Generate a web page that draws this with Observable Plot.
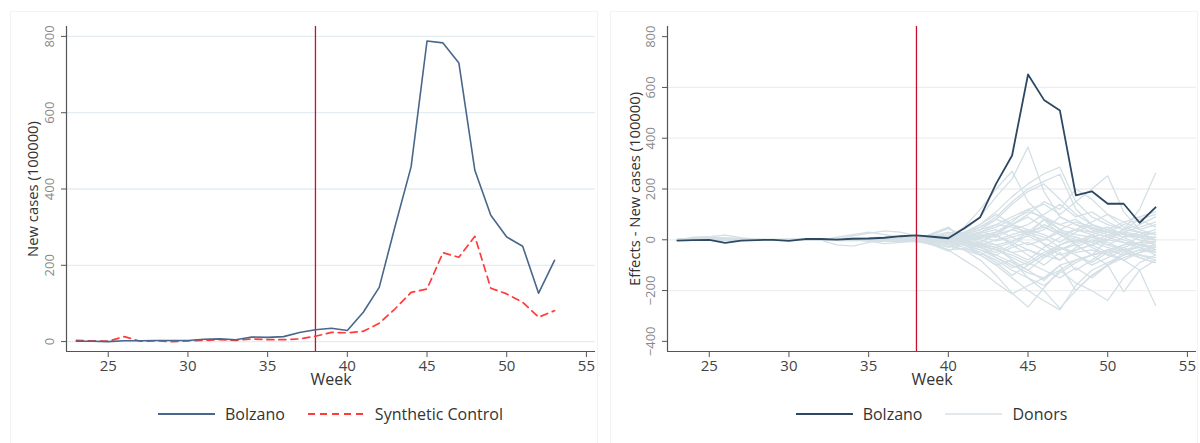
<!DOCTYPE html>
<html><head><meta charset="utf-8">
<script src="https://cdn.jsdelivr.net/npm/d3@7"></script>
<script src="https://cdn.jsdelivr.net/npm/@observablehq/plot@0.6"></script>
<style>
body{margin:0;background:#fff;font-family:"Open Sans",sans-serif;}
#wrap{position:relative;width:1200px;height:443px;overflow:hidden;background:#fff;}
.panel{position:absolute;top:0;width:600px;height:443px;}
.panel > svg{position:absolute;left:0;top:0;}
.frame{position:absolute;top:11px;height:440px;border:1px solid #f3f3f3;box-sizing:border-box;}
.legend{position:absolute;top:402px;height:24px;display:flex;justify-content:center;align-items:center;gap:23px;font-size:16px;color:#333;}
.item{display:flex;align-items:center;gap:10px;white-space:nowrap;}
.item svg{display:block;}
</style></head><body><div id="wrap"></div>
<script>
// ---- data ----
const weeks = [23,24,25,26,27,28,29,30,31,32,33,34,35,36,37,38,39,40,41,42,43,44,45,46,47,48,49,50,51,52,53];
const bolzanoCases   = [1,1,0,2,2,3,3,3,6,7,5,12,11,13,24,31,35,29,77,142,303,458,788,783,730,449,331,274,250,127,213];
const syntheticCases = [3,2,1,13,1,2,0,2,3,5,3,7,5,5,7,14,24,23,27,48,86,129,138,233,221,276,140,125,103,64,81];
const bolzanoEffects = [-3,-1,0,-12,-3,-1,0,-4,3,3,1,4,5,8,14,17,12,6,45,89,221,332,651,551,509,175,191,142,142,67,128];
const donorEffects = [
 [2,3,5,8,4,1,0,2,3,1,4,6,8,10,7,5, 12,25,40,90,170,240,365,190,90,60,45,30,25,15,10],
 [-1,0,2,1,-2,0,1,0,-1,2,3,1,5,4,6,3, 8,15,30,60,110,170,220,260,286,150,90,60,40,30,20],
 [0,-2,1,3,2,1,0,-1,1,0,2,3,2,5,4,6, 5,10,22,50,90,150,200,230,258,120,60,30,10,-20,-40],
 [3,5,12,18,8,2,0,1,2,3,1,2,4,3,2,1, -5,0,15,30,60,90,120,140,100,150,200,252,110,40,20],
 [0,1,0,-1,1,2,0,1,0,-2,1,0,2,1,3,2, 4,6,10,-10,30,60,20,80,40,-20,-60,0,40,120,262],
 [1,0,-1,2,0,-1,1,0,2,1,-1,0,3,2,1,3, 6,10,50,120,200,270,150,90,40,20,10,0,-10,-20,-30],
 [-2,-1,0,1,0,1,2,0,1,2,0,1,2,3,1,0, 2,5,20,40,80,140,190,220,160,100,60,40,20,10,0],
 [1,2,1,0,-1,0,1,2,0,1,3,2,1,0,2,3, 20,45,10,30,20,60,100,150,120,200,160,100,70,40,60],
 [0,-1,-2,0,1,0,-1,0,-1,0,-3,-2,-4,-6,-5,-4, -10,-20,-40,-80,-140,-210,-265,-190,-120,-80,-60,-40,-20,-10,-5],
 [-1,0,1,0,-1,-2,0,-1,0,1,-2,-3,-1,-2,-4,-3, -6,-15,-30,-60,-100,-150,-200,-240,-276,-180,-120,-90,-60,-40,-30],
 [0,1,0,-1,0,1,-1,0,1,-1,0,-2,-1,-3,-2,-5, -8,-12,-20,-40,-70,-100,-130,-150,-120,-170,-200,-239,-150,-90,-60],
 [1,0,-1,0,1,0,0,1,-1,0,1,0,-1,0,1,-2, -3,-5,-10,-20,-30,-50,-40,-60,-30,-50,-40,-60,-80,-120,-259],
 [0,-1,0,1,0,-1,0,-2,-1,0,-2,-1,-3,-5,-4,-8, -15,-40,-80,-120,-170,-213,-180,-150,-100,-80,-60,-50,-40,-30,-20],
 [-2,-1,0,-1,0,1,0,-1,0,-1,-2,-1,0,-2,-3,-4, -5,-10,-20,-30,-60,-90,-120,-160,-100,-200,-140,-100,-70,-50,-40],
 [0,0,-1,0,1,0,-1,0,0,1,0,-1,-2,-1,-2,-3, -15,-40,-35,-50,-80,-120,-150,-180,-130,-90,-60,-40,-30,-70,-90],
 [1,0,0,1,0,-1,0,1,0,0,-1,0,1,0,-1,-2, -4,-10,-15,-25,-40,-60,-90,-120,-150,-110,-150,-100,-205,-120,-80],
 [0,1,2,1,0,1,0,-1,0,1,0,1,0,-1,0,-1, -2,-5,-20,-60,-100,-80,-150,-200,-270,-200,-140,-100,-60,-40,-50],
 [0,1,0,1,2,1,0,1,2,1,2,3,4,5,4,3, 5,8,20,40,60,50,30,80,60,40,30,50,20,10,30],
 [1,0,-1,0,1,0,1,0,-1,0,1,2,1,0,2,1, 3,5,-10,-20,0,20,40,20,-10,30,60,40,20,0,-20],
 [0,-1,0,1,0,1,0,-1,0,1,0,-1,-2,-1,-3,-2, -5,-10,-20,-40,-60,-30,-10,-40,-80,-30,0,-20,-40,-30,-50],
 [0,1,1,0,-1,0,1,2,1,0,-1,0,1,2,3,2, 20,45,15,30,50,80,110,90,60,80,40,20,30,50,70],
 [1,0,0,-1,0,1,0,0,1,0,0,1,0,-1,0,1, 0,-5,5,-20,-40,-70,-100,-60,-20,10,-30,-60,-30,-10,-40],
 [0,0,1,0,0,-1,0,1,0,0,1,15,25,35,30,15, 3,2,10,20,10,40,60,100,140,90,110,70,40,60,90],
 [0,-1,-1,0,1,0,0,-1,0,-1,-20,-25,-10,-1,-2,-1, -2,-8,-15,-10,20,-20,-60,-100,-50,-120,-80,-40,-60,-20,-10],
 [1,1,0,0,-1,0,1,0,0,1,0,0,1,2,1,2, 1,0,8,15,-5,10,30,50,20,-10,20,40,70,90,110],
 [0,0,0,1,0,0,-1,0,1,0,0,-1,0,1,0,0, 25,50,-5,10,30,60,40,-20,-60,-40,-20,10,-10,-30,-60],
 [0,1,0,0,0,1,0,0,-1,0,1,0,-1,0,1,0, 2,4,6,0,-20,-50,-80,-30,10,40,20,-10,-40,-60,-80],
 [-1,0,0,1,0,0,0,1,0,0,1,2,3,2,1,0, -20,-45,-12,-30,-50,-20,20,60,30,0,-20,0,30,20,0],
 [0,0,1,1,0,0,1,0,0,-1,10,20,30,20,10,1, 15,30,12,25,40,10,-20,0,40,70,50,30,10,20,40],
 [0,1,0,0,1,0,0,1,0,0,-1,0,0,1,2,1, -10,-30,-8,-25,-70,-110,-90,-50,-20,0,-10,-30,-50,-70,-90],
 [1,0,0,0,0,1,0,-1,0,1,0,0,1,0,0,-1, -2,-4,5,15,30,70,120,80,20,-20,-60,-100,-50,-10,10],
 [0,0,-1,0,0,0,1,0,0,0,1,0,0,-1,0,0, 1,3,-3,-15,-30,-10,30,10,-30,-60,-90,-50,-20,10,-20],
 [0,1,0,0,0,-1,0,0,1,0,0,1,0,0,1,0, 1,2,4,8,15,-10,-40,-70,-40,-10,10,30,60,80,50],
 [0,0,0,0,1,0,0,0,0,1,0,0,-1,0,0,1, 0,1,-2,5,20,40,20,0,30,10,-10,20,0,-20,-30],
 [0,0,1,0,0,0,0,1,0,0,0,-1,0,0,1,0, -1,-2,-6,-12,-20,-5,15,-15,-40,-20,10,-20,10,30,0],
 [0,10,12,5,0,0,0,0,1,0,0,0,0,-1,0,0, 8,15,25,60,100,60,20,40,90,60,30,10,40,80,100],
 [0,0,0,-1,0,0,1,0,0,0,-1,0,-5,-15,-10,-5, -20,-25,-40,-60,-30,-80,-120,-70,-30,-60,-100,-70,-40,-60,-70],
 [0,0,0,0,0,1,0,0,0,0,0,0,0,5,8,10, 12,18,30,50,80,60,90,50,20,40,70,100,50,30,20],
 [0,0,0,0,0,0,0,0,0,0,1,0,0,0,0,0, -3,-6,-20,-50,-90,-140,-100,-60,-80,-40,-20,-50,-80,-50,-30]
];
const treatmentWeek = 38;
const xTicks = [25,30,35,40,45,50,55];
const yTicksCases = [0,200,400,600,800];
const yTicksEffects = [-400,-200,0,200,400,600,800];
const gridEffects = [-200,0,200,400,600];

// ---- colors ----
const cBolzanoL = "#48678a", cBolzanoR = "#2d4862", cSynth = "#ff3b3b", cRed = "#c8102e", cDonor = "#d4e0e6";
const font = '"Open Sans", sans-serif';
const xDomain = [22.38, 55.57];

const wrap = document.getElementById("wrap");

function makePanel(left, svg, legendItems, mLeft, mRight) {
  const p = document.createElement("div");
  p.className = "panel"; p.style.left = left + "px";
  const fr = document.createElement("div");
  fr.className = "frame"; fr.style.left = "10px"; fr.style.width = "588px";
  p.appendChild(fr);
  p.appendChild(svg);
  const lg = document.createElement("div");
  lg.className = "legend";
  lg.style.left = mLeft + "px"; lg.style.width = (600 - mLeft - mRight) + "px";
  for (const it of legendItems) {
    const d = document.createElement("div"); d.className = "item";
    d.innerHTML = `<svg width="57" height="4"><line x1="0" x2="57" y1="2" y2="2" stroke="${it.color}" stroke-width="${it.w}" ${it.dash ? `stroke-dasharray="${it.dash}"` : ""}/></svg><span>${it.label}</span>`;
    lg.appendChild(d);
  }
  p.appendChild(lg);
  wrap.appendChild(p);
}

// ---- left panel ----
const leftRows = weeks.map((w, i) => ({week: w, bolzano: bolzanoCases[i], synthetic: syntheticCases[i]}));
const left = Plot.plot({
  width: 600, height: 395, marginLeft: 66, marginRight: 5, marginTop: 26, marginBottom: 44,
  style: {fontFamily: font, background: "transparent", overflow: "visible"},
  x: {domain: xDomain}, y: {domain: [-26, 826]},
  marks: [
    Plot.gridY(yTicksCases, {stroke: "#e4edf1", strokeOpacity: 1, strokeWidth: 1.3}),
    Plot.ruleX([treatmentWeek], {stroke: cRed, strokeWidth: 1.3}),
    Plot.line(leftRows, {x: "week", y: "synthetic", stroke: cSynth, strokeWidth: 1.7, strokeDasharray: "7,5"}),
    Plot.line(leftRows, {x: "week", y: "bolzano", stroke: cBolzanoL, strokeWidth: 1.6}),
    Plot.ruleY([-26], {stroke: "#555", strokeWidth: 1.2}),
    Plot.ruleX([xDomain[0]], {stroke: "#555", strokeWidth: 1.2}),
    Plot.axisX(xTicks, {tickSize: 6, tickPadding: 3, fontSize: 15, fill: "#444", stroke: "#555", label: null}),
    Plot.axisY(yTicksCases, {tickSize: 5, tickRotate: -90, tickPadding: 8, fontSize: 13, fill: "#888", stroke: "#555", label: null}),
    Plot.text(["Week"], {text: d => d, frameAnchor: "bottom", dy: 33, fontSize: 16, fill: "#333"}),
    Plot.text(["New cases (100000)"], {text: d => d, frameAnchor: "left", textAnchor: "middle", dx: -33, rotate: -90, fontSize: 14.8, fill: "#333"})
  ]
});
makePanel(0, left, [
  {label: "Bolzano", color: cBolzanoL, w: 1.8},
  {label: "Synthetic Control", color: cSynth, w: 1.8, dash: "7,5"}
], 66, 5);

// ---- right panel ----
const donorRows = [];
donorEffects.forEach((arr, k) => arr.forEach((v, i) => donorRows.push({donor: k, week: weeks[i], value: v})));
const bolzRows = weeks.map((w, i) => ({week: w, value: bolzanoEffects[i]}));
const right = Plot.plot({
  width: 600, height: 395, marginLeft: 67, marginRight: 4, marginTop: 26, marginBottom: 44,
  style: {fontFamily: font, background: "transparent", overflow: "visible"},
  x: {domain: xDomain}, y: {domain: [-440, 840]},
  marks: [
    Plot.gridY(gridEffects, {stroke: "#eeeeee", strokeOpacity: 1, strokeWidth: 1.3}),
    Plot.line(donorRows, {x: "week", y: "value", z: "donor", stroke: cDonor, strokeWidth: 1.3}),
    Plot.ruleX([treatmentWeek], {stroke: cRed, strokeWidth: 1.3}),
    Plot.line(bolzRows, {x: "week", y: "value", stroke: cBolzanoR, strokeWidth: 1.8}),
    Plot.ruleY([-440], {stroke: "#555", strokeWidth: 1.2}),
    Plot.ruleX([xDomain[0]], {stroke: "#555", strokeWidth: 1.2}),
    Plot.axisX(xTicks, {tickSize: 6, tickPadding: 3, fontSize: 15, fill: "#444", stroke: "#555", label: null}),
    Plot.axisY(yTicksEffects, {tickSize: 5, tickRotate: -90, tickPadding: 8, fontSize: 13, fill: "#888", stroke: "#555", label: null}),
    Plot.text(["Week"], {text: d => d, frameAnchor: "bottom", dy: 33, fontSize: 16, fill: "#333"}),
    Plot.text(["Effects - New cases (100000)"], {text: d => d, frameAnchor: "left", textAnchor: "middle", dx: -32, rotate: -90, fontSize: 14.8, fill: "#333"})
  ]
});
makePanel(600, right, [
  {label: "Bolzano", color: cBolzanoR, w: 2},
  {label: "Donors", color: "#e2e8eb", w: 1.8}
], 67, 4);
</script></body></html>
